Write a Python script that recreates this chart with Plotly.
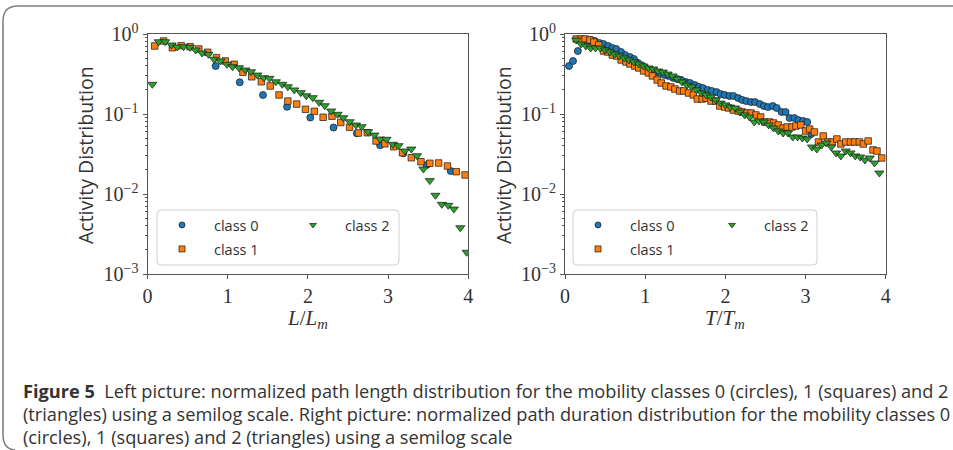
import plotly.graph_objects as go

W, H = 953, 450

# ---------------- data: left panel (normalized path length L/L_m) ----------------
len_c0_x = [0.85, 1.15, 1.44, 1.74, 2.03, 2.32, 2.61, 2.90, 3.19, 3.48, 3.78]
len_c0_y = [0.398, 0.249, 0.173, 0.123, 0.0904, 0.0678, 0.0574, 0.0406, 0.0323, 0.0230, 0.0194]

len_c1_x = [0.09, 0.20, 0.31, 0.42, 0.53, 0.64, 0.75, 0.86, 0.97, 1.08, 1.19, 1.30,
            1.42, 1.53, 1.64, 1.75, 1.86, 1.97, 2.08, 2.19, 2.30, 2.41, 2.52, 2.63,
            2.74, 2.85, 2.96, 3.07, 3.18, 3.29, 3.41, 3.52, 3.63, 3.74, 3.85, 3.96]
len_c1_y = [0.708, 0.818, 0.674, 0.714, 0.694, 0.649, 0.591, 0.506, 0.460, 0.418, 0.332, 0.292,
            0.253, 0.224, 0.173, 0.145, 0.133, 0.1145, 0.108, 0.0910, 0.0939, 0.0783, 0.0684, 0.0579,
            0.0584, 0.0460, 0.0424, 0.0390, 0.0328, 0.0284, 0.0253, 0.0242, 0.0244, 0.0224, 0.0190, 0.0173]

len_c2_x = [0.06, 0.14, 0.22, 0.30, 0.37, 0.45, 0.53, 0.60, 0.68, 0.76, 0.83, 0.91, 0.99,
            1.06, 1.14, 1.22, 1.29, 1.37, 1.45, 1.52, 1.60, 1.68, 1.75, 1.83, 1.91, 1.98,
            2.06, 2.14, 2.21, 2.29, 2.37, 2.44, 2.52, 2.60, 2.67, 2.75, 2.83, 2.90, 2.98,
            3.06, 3.13, 3.21, 3.29, 3.36, 3.44, 3.52, 3.59, 3.67, 3.75, 3.82, 3.90, 3.98]
len_c2_y = [0.235, 0.80, 0.80, 0.729, 0.688, 0.694, 0.682, 0.631, 0.579, 0.557, 0.483, 0.460, 0.418,
            0.390, 0.379, 0.355, 0.338, 0.307, 0.284, 0.279, 0.253, 0.235, 0.219, 0.200, 0.185, 0.169,
            0.160, 0.140, 0.127, 0.109, 0.0991, 0.0899, 0.0801, 0.0729, 0.0694, 0.0601, 0.0546, 0.0487, 0.0483,
            0.0418, 0.0402, 0.0345, 0.0365, 0.0301, 0.0205, 0.0147, 0.00963, 0.00743, 0.00722, 0.00649, 0.00379, 0.00187]

# ---------------- data: right panel (normalized path duration T/T_m) ----------------
dur_c0_x = [0.05, 0.10, 0.16, 0.21, 0.27, 0.32, 0.37, 0.43, 0.48, 0.54, 0.59, 0.64, 0.70, 0.75,
            0.81, 0.86, 0.91, 0.97, 1.02, 1.08, 1.13, 1.18, 1.24, 1.29, 1.35, 1.40, 1.45, 1.51,
            1.56, 1.62, 1.67, 1.72, 1.78, 1.83, 1.89, 1.94, 1.99, 2.05, 2.10, 2.16, 2.21, 2.26,
            2.32, 2.37, 2.43, 2.48, 2.53, 2.59, 2.64, 2.70, 2.75, 2.80, 2.86, 2.91, 2.97, 3.02, 3.07]
dur_c0_y = [0.398, 0.460, 0.613, 0.794, 0.818, 0.841, 0.818, 0.772, 0.750, 0.708, 0.668, 0.649, 0.596, 0.546,
            0.516, 0.487, 0.434, 0.398, 0.365, 0.355, 0.335, 0.326, 0.307, 0.299, 0.282, 0.274, 0.266, 0.251,
            0.244, 0.230, 0.218, 0.211, 0.200, 0.194, 0.188, 0.178, 0.173, 0.168, 0.168, 0.158, 0.150, 0.145,
            0.141, 0.141, 0.133, 0.126, 0.122, 0.126, 0.119, 0.106, 0.106, 0.0891, 0.0891, 0.0841, 0.0818, 0.0794, 0.0562]

dur_c1_x = [0.14, 0.20, 0.25, 0.31, 0.36, 0.42, 0.48, 0.53, 0.59, 0.64, 0.70, 0.76, 0.81, 0.87, 0.92, 0.98,
            1.04, 1.09, 1.15, 1.20, 1.26, 1.32, 1.37, 1.43, 1.48, 1.54, 1.60, 1.65, 1.71, 1.76, 1.82, 1.88, 1.93, 1.99,
            2.04, 2.10, 2.16, 2.21, 2.27, 2.32, 2.38, 2.44, 2.49, 2.55, 2.60, 2.66, 2.72, 2.77, 2.83, 2.88, 2.94,
            3.00, 3.05, 3.11, 3.16, 3.22, 3.28, 3.33, 3.39, 3.44, 3.50, 3.56, 3.61, 3.67, 3.72, 3.78, 3.84, 3.89, 3.95]
dur_c1_y = [0.866, 0.866, 0.866, 0.841, 0.794, 0.729, 0.613, 0.596, 0.546, 0.531, 0.473, 0.447, 0.422, 0.398, 0.376, 0.345,
            0.326, 0.299, 0.266, 0.244, 0.224, 0.218, 0.205, 0.194, 0.194, 0.183, 0.173, 0.154, 0.154, 0.158, 0.145, 0.145, 0.126, 0.122,
            0.119, 0.112, 0.109, 0.106, 0.103, 0.103, 0.0973, 0.0917, 0.0794, 0.0794, 0.0772, 0.0729, 0.0668, 0.0688, 0.0688, 0.0708, 0.0729,
            0.0613, 0.0649, 0.0596, 0.0447, 0.0531, 0.0447, 0.0447, 0.0487, 0.0422, 0.0447, 0.0447, 0.0447, 0.0447, 0.0422, 0.0460, 0.0355, 0.0345, 0.0282]

dur_c2_x = [0.14, 0.20, 0.26, 0.32, 0.38, 0.44, 0.50, 0.56, 0.62, 0.68, 0.74, 0.80, 0.86, 0.92,
            0.98, 1.04, 1.10, 1.16, 1.22, 1.28, 1.34, 1.40, 1.46, 1.52, 1.58, 1.64, 1.70, 1.76, 1.82, 1.88, 1.94, 2.00,
            2.06, 2.12, 2.18, 2.24, 2.30, 2.36, 2.42, 2.48, 2.54, 2.60, 2.66, 2.72, 2.78, 2.84, 2.90, 2.96,
            3.02, 3.08, 3.14, 3.20, 3.26, 3.32, 3.38, 3.44, 3.50, 3.56, 3.62, 3.68, 3.74, 3.80, 3.86, 3.92]
dur_c2_y = [0.841, 0.750, 0.708, 0.668, 0.668, 0.668, 0.631, 0.596, 0.562, 0.531, 0.501, 0.473, 0.447, 0.422,
            0.398, 0.376, 0.365, 0.345, 0.335, 0.316, 0.299, 0.274, 0.251, 0.230, 0.218, 0.200, 0.183, 0.173, 0.163, 0.150, 0.137, 0.130,
            0.122, 0.119, 0.106, 0.0973, 0.0917, 0.0794, 0.0818, 0.0794, 0.0729, 0.0668, 0.0613, 0.0579, 0.0579, 0.0516, 0.0516, 0.0501,
            0.0487, 0.0387, 0.0365, 0.0410, 0.0434, 0.0387, 0.0326, 0.0299, 0.0345, 0.0326, 0.0299, 0.0290, 0.0266, 0.0282, 0.0244, 0.0183]

class_names = ["class 0", "class 1", "class 2"]
class_colors = ["#1f77b4", "#ff7f0e", "#2ca02c"]
class_symbols = ["circle", "square", "triangle-down"]
y_tick_vals = [0.001, 0.01, 0.1, 1]
y_tick_text = ["10<sup>\u22123</sup>", "10<sup>\u22122</sup>", "10<sup>\u22121</sup>", "10<sup>0</sup>"]
x_tick_vals = [0, 1, 2, 3, 4]

caption_lines = [
    "<b>Figure 5</b>\u00a0\u00a0Left picture: normalized path length distribution for the mobility classes 0 (circles), 1 (squares) and 2",
    "(triangles) using a semilog scale. Right picture: normalized path duration distribution for the mobility classes 0",
    "(circles), 1 (squares) and 2 (triangles) using a semilog scale",
]

# ---------------- helpers (pixel -> paper) ----------------
def px(x):
    return x / W

def py(y):
    return 1 - y / H

EDGE = "rgba(25,25,25,0.9)"
SIZES = [7, 6.5, 8]

fig = go.Figure()

panels = [
    ("x", "y", [(len_c0_x, len_c0_y), (len_c1_x, len_c1_y), (len_c2_x, len_c2_y)]),
    ("x2", "y2", [(dur_c0_x, dur_c0_y), (dur_c1_x, dur_c1_y), (dur_c2_x, dur_c2_y)]),
]
for xa, ya, series in panels:
    for i, (xs, ys) in enumerate(series):
        fig.add_trace(go.Scatter(
            x=xs, y=ys, mode="markers", xaxis=xa, yaxis=ya, showlegend=False,
            name=class_names[i], hoverinfo="skip",
            marker=dict(symbol=class_symbols[i], color=class_colors[i], size=SIZES[i],
                        line=dict(color=EDGE, width=0.8)),
        ))

# legend entries: one legend per entry so the 2-column matplotlib layout can be matched
ITEMW = 54
legend_specs = {}
entry_pos = {  # marker centre in pixels (panel, class) -> (x, y)
    (0, 0): (182, 225), (0, 1): (182, 249), (0, 2): (313, 225),
    (1, 0): (598, 225), (1, 1): (598, 249), (1, 2): (732, 225),
}
k = 0
for (panel, ci), (mx, my) in entry_pos.items():
    k += 1
    lid = "legend" if k == 1 else f"legend{k}"
    fig.add_trace(go.Scatter(
        x=[None], y=[None], mode="markers", name=class_names[ci], legend=lid,
        xaxis="x" if panel == 0 else "x2", yaxis="y" if panel == 0 else "y2",
        showlegend=True,
        marker=dict(symbol=class_symbols[ci], color=class_colors[ci], size=6,
                    line=dict(color=EDGE, width=0.8)),
    ))
    legend_specs[lid] = dict(
        x=px(mx - 5 - ITEMW / 2), y=py(my), xanchor="left", yanchor="middle",
        bgcolor="rgba(0,0,0,0)", borderwidth=0, itemwidth=ITEMW,
        font=dict(family="Open Sans", size=14.5, color="#333"),
        itemclick=False, itemdoubleclick=False,
    )

axis_line = "#555"
tick_font = dict(family="Liberation Serif", size=20, color="#333")

def xaxis_cfg(x0, x1, anchor):
    return dict(domain=[px(x0), px(x1)], anchor=anchor, range=[0, 4], tickmode="array",
                tickvals=x_tick_vals, ticktext=[str(v) for v in x_tick_vals],
                ticks="outside", ticklen=4, tickwidth=1, tickcolor=axis_line,
                showline=True, linecolor=axis_line, linewidth=1, mirror=True,
                showgrid=False, zeroline=False, tickfont=tick_font, automargin=False)

minor_vals = [m * d for d in (0.001, 0.01, 0.1) for m in range(2, 10)]

def yaxis_cfg(anchor):
    return dict(domain=[py(274), py(34)], anchor=anchor, type="log", range=[-3, 0],
                tickmode="array", tickvals=y_tick_vals, ticktext=y_tick_text,
                ticks="outside", ticklen=4, tickwidth=1, tickcolor=axis_line,
                minor=dict(tickmode="array", tickvals=minor_vals, ticks="outside",
                           ticklen=2, tickwidth=0.8, tickcolor=axis_line, showgrid=False),
                showline=True, linecolor=axis_line, linewidth=1, mirror=True,
                showgrid=False, zeroline=False, tickfont=tick_font, automargin=False)

# rounded rectangle path in paper coordinates
def rrect(x0, y0, x1, y1, r):
    return (f"M {px(x0 + r)},{py(y0)} L {px(x1 - r)},{py(y0)} Q {px(x1)},{py(y0)} {px(x1)},{py(y0 + r)} "
            f"L {px(x1)},{py(y1 - r)} Q {px(x1)},{py(y1)} {px(x1 - r)},{py(y1)} "
            f"L {px(x0 + r)},{py(y1)} Q {px(x0)},{py(y1)} {px(x0)},{py(y1 - r)} "
            f"L {px(x0)},{py(y0 + r)} Q {px(x0)},{py(y0)} {px(x0 + r)},{py(y0)} Z")

shapes = [
    dict(type="path", xref="paper", yref="paper", layer="above",
         path=rrect(157, 210, 399, 265, 4), line=dict(color="#d0d0d0", width=1),
         fillcolor="rgba(255,255,255,0.8)"),
    dict(type="path", xref="paper", yref="paper", layer="above",
         path=rrect(573, 210, 817, 265, 4), line=dict(color="#d0d0d0", width=1),
         fillcolor="rgba(255,255,255,0.8)"),
    # figure frame (rounded corner on the left)
    dict(type="path", xref="paper", yref="paper", layer="above",
         path=(f"M {px(953)},{py(6)} L {px(18)},{py(6)} Q {px(3)},{py(6)} {px(3)},{py(21)} "
               f"L {px(3)},{py(435)} Q {px(3)},{py(449)} {px(15)},{py(450)}"),
         line=dict(color="#808080", width=1.6)),
]

annotations = []
for cx in (85, 503):
    annotations.append(dict(x=px(cx), y=py(155), xref="paper", yref="paper", text="Activity Distribution",
                            textangle=-90, showarrow=False, xanchor="center", yanchor="middle",
                            font=dict(family="Open Sans", size=19.5, color="#333")))
annotations.append(dict(x=px(307), y=py(319), xref="paper", yref="paper",
                        text="<i>L</i>/<i>L</i><sub><i>m</i></sub>", showarrow=False,
                        xanchor="center", yanchor="middle",
                        font=dict(family="Liberation Serif", size=21, color="#333")))
annotations.append(dict(x=px(725), y=py(319), xref="paper", yref="paper",
                        text="<i>T</i>/<i>T</i><sub><i>m</i></sub>", showarrow=False,
                        xanchor="center", yanchor="middle",
                        font=dict(family="Liberation Serif", size=21, color="#333")))
for i, line in enumerate(caption_lines):
    annotations.append(dict(x=px(21), y=py(391 + 23 * i), xref="paper", yref="paper", text=line,
                            showarrow=False, xanchor="left", yanchor="middle",
                            font=dict(family="Open Sans", size=18.2, color="#333")))

fig.update_layout(
    width=W, height=H, margin=dict(l=0, r=0, t=0, b=0, pad=0, autoexpand=False),
    paper_bgcolor="white", plot_bgcolor="white",
    xaxis=xaxis_cfg(147.5, 468.3, "y"), yaxis=yaxis_cfg("x"),
    xaxis2=xaxis_cfg(565, 885.8, "y2"), yaxis2=yaxis_cfg("x2"),
    shapes=shapes, annotations=annotations, **legend_specs,
)

fig.write_html("out.html")
